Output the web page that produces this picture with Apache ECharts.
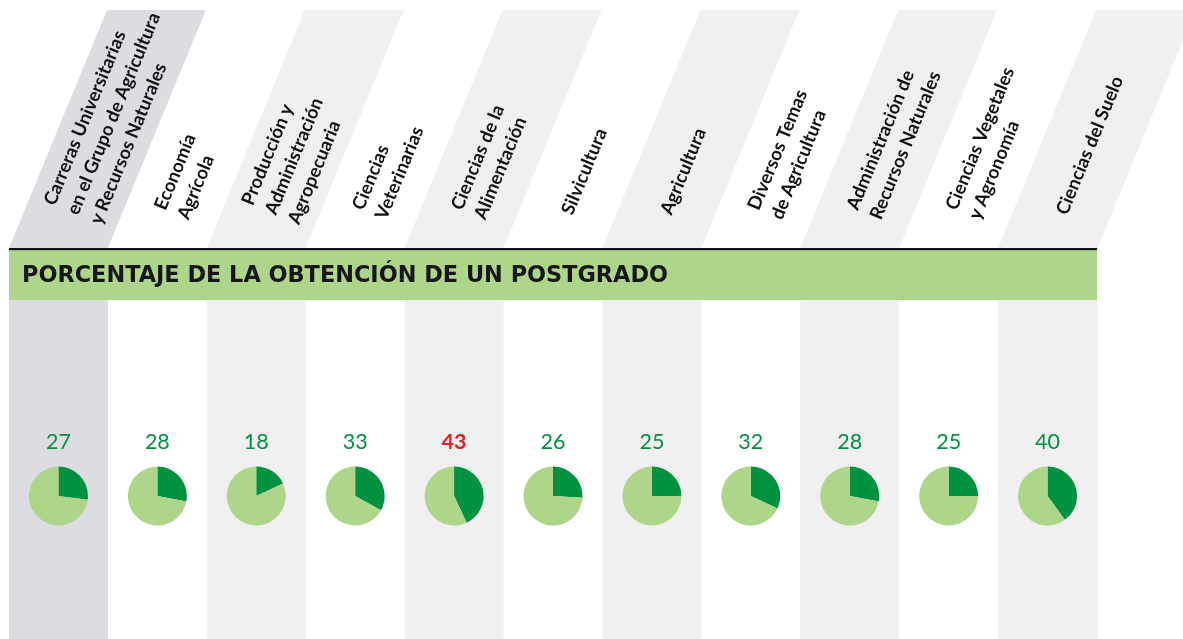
<!DOCTYPE html>
<html>
<head>
<meta charset="utf-8">
<script src="https://cdn.jsdelivr.net/npm/echarts@6/dist/echarts.min.js"></script>
<style>
  html, body { margin: 0; padding: 0; background: #ffffff; }
  #chart { width: 1183px; height: 639px; }
</style>
</head>
<body>
<div id="chart"></div>
<script>
// ---- Data ----
const categories = [
  'Carreras Universitarias\nen el Grupo de Agricultura\ny Recursos Naturales',
  'Economía\nAgrícola',
  'Producción y\nAdministración\nAgropecuaria',
  'Ciencias\nVeterinarias',
  'Ciencias de la\nAlimentación',
  'Silvicultura',
  'Agricultura',
  'Diversos Temas\nde Agricultura',
  'Administración de\nRecursos Naturales',
  'Ciencias Vegetales\ny Agronomía',
  'Ciencias del Suelo'
];
const postgrado = [27, 28, 18, 33, 43, 26, 25, 32, 28, 25, 40];
const titleText = 'PORCENTAJE DE LA OBTENCIÓN DE UN POSTGRADO';

// ---- Styles / layout ----
const DARK = '#009240';
const LIGHT = '#aed68b';
const HIGHLIGHT = '#e3202a';
const HEADER_TOP = 10;
const HEADER_BOTTOM = 248;
const SLANT_DX = 98;
const THETA = Math.atan2(HEADER_BOTTOM - HEADER_TOP, SLANT_DX);
const U = [Math.cos(THETA), -Math.sin(THETA)];
const N = [Math.sin(THETA), Math.cos(THETA)];
const LABEL_S = 37, LABEL_T = 0;
const VALUE_Y = 442;
const PIE_Y = 496;
const maxVal = Math.max.apply(null, postgrado);

function colColor(i) {
  if (i === 0) return '#dcdde0';
  return i % 2 === 0 ? '#f0f0f0' : '#ffffff';
}

const chart = echarts.init(document.getElementById('chart'), null, { renderer: 'canvas' });

const baseOption = {
  animation: false,
  backgroundColor: '#ffffff',
  grid: { left: 9, right: 86, top: 300, bottom: 0, containLabel: false },
  xAxis: { type: 'category', data: categories, show: false, boundaryGap: true },
  yAxis: { type: 'value', min: 0, max: 100, show: false },
  graphic: [
    { type: 'rect', z: 50, shape: { x: 9, y: 248, width: 1088, height: 2.5 }, style: { fill: '#111111' } },
    { type: 'rect', z: 50, shape: { x: 9, y: 250.5, width: 1088, height: 49.5 }, style: { fill: LIGHT } },
    { type: 'text', z: 51, x: 22, y: 276, style: { text: titleText, fill: '#161616', font: 'bold 22.4px "DejaVu Sans"', verticalAlign: 'middle', align: 'left' } }
  ],
  series: [{
    type: 'custom',
    z: 1,
    silent: true,
    data: postgrado.map((v, i) => [i, v]),
    encode: { x: 0, y: 1 },
    renderItem: function (params, api) {
      const i = params.dataIndex;
      const v = api.value(1);
      const xc = api.coord([i, 0])[0];
      const w = api.size([1, 0])[0];
      const cs = params.coordSys;
      const fill = colColor(i);
      const px = xc + LABEL_S * U[0] + LABEL_T * N[0];
      const py = HEADER_BOTTOM + LABEL_S * U[1] + LABEL_T * N[1];
      return {
        type: 'group',
        children: [
          { type: 'rect', shape: { x: xc - w / 2, y: cs.y, width: w + 0.5, height: cs.height }, style: { fill: fill } },
          { type: 'polygon', shape: { points: [
              [xc - w / 2, HEADER_BOTTOM], [xc + w / 2 + 0.5, HEADER_BOTTOM],
              [xc + w / 2 + 0.5 + SLANT_DX, HEADER_TOP], [xc - w / 2 + SLANT_DX, HEADER_TOP]] },
            style: { fill: fill } },
          { type: 'text', x: px, y: py, rotation: THETA,
            style: { text: categories[i], font: 'bold 18.5px Lato', lineHeight: 25, fill: '#111111', align: 'left', verticalAlign: 'middle' } },
          { type: 'text', x: xc, y: VALUE_Y,
            style: { text: String(v), font: (v === maxVal ? 'bold ' : '') + '21.5px Lato', fill: v === maxVal ? HIGHLIGHT : DARK, align: 'center', verticalAlign: 'middle' } }
        ]
      };
    }
  }]
};
chart.setOption(baseOption);

const pieSeries = postgrado.map(function (v, i) {
  return {
    type: 'pie',
    z: 3,
    silent: true,
    animation: false,
    center: [chart.convertToPixel({ xAxisIndex: 0 }, i), PIE_Y],
    radius: 29.5,
    startAngle: 90,
    clockwise: true,
    label: { show: false },
    labelLine: { show: false },
    itemStyle: { borderWidth: 0 },
    data: [
      { name: 'Postgrado', value: v, itemStyle: { color: DARK } },
      { name: 'Sin postgrado', value: 100 - v, itemStyle: { color: LIGHT } }
    ]
  };
});
chart.setOption({ series: [baseOption.series[0]].concat(pieSeries) });
</script>
</body>
</html>
